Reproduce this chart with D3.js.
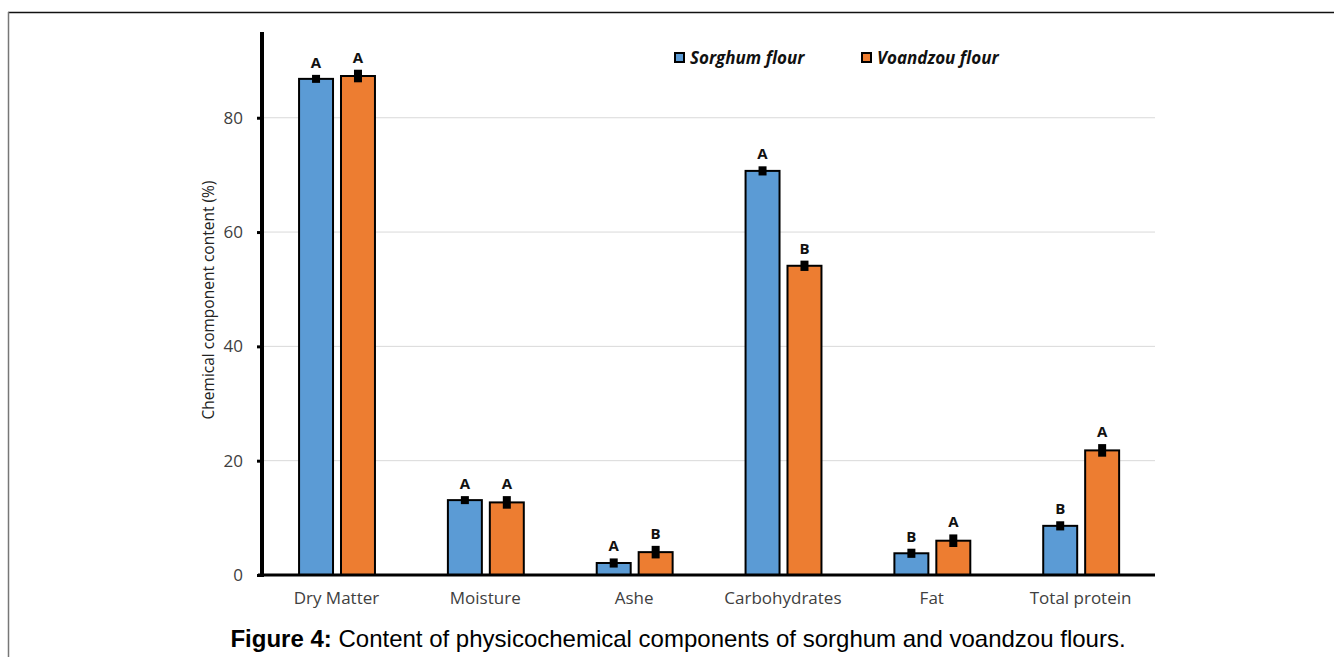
<!DOCTYPE html>
<html><head><meta charset="utf-8">
<script src="https://cdn.jsdelivr.net/npm/d3@7"></script>
<style>body{margin:0;background:#fff}</style>
</head><body>
<svg id="c" width="1334" height="657"></svg>
<script>
const categories = ["Dry Matter","Moisture","Ashe","Carbohydrates","Fat","Total protein"];
const seriesNames = ["Sorghum flour","Voandzou flour"];
const sorghum = [86.8, 13.1, 2.1, 70.7, 3.8, 8.6];
const voandzou = [87.3, 12.7, 4.0, 54.1, 6.0, 21.8];
const sorghumErr = [0.7, 0.7, 0.8, 0.8, 0.8, 0.8];
const voandzouErr = [1.1, 1.1, 1.1, 0.9, 1.1, 1.1];
const sorghumLetters = ["A","A","A","A","B","B"];
const voandzouLetters = ["A","A","B","B","A","A"];
const yTicks = [0,20,40,60,80];
const colors = ["#5B9BD5","#ED7D31"];

const svg = d3.select("#c");
const ml = 262, mr = 1155, mt = 32, mb = 575;
// frame
svg.append("line").attr("x1",8).attr("x2",1334).attr("y1",12.5).attr("y2",12.5).attr("stroke","#111").attr("stroke-width",1.3);
svg.append("line").attr("x1",8.5).attr("x2",8.5).attr("y1",12).attr("y2",657).attr("stroke","#777").attr("stroke-width",1.5);

const y = d3.scaleLinear().domain([0,95]).range([mb,mt]);
const x0 = d3.scaleBand().domain(categories).range([ml,mr]);
const bw = x0.bandwidth();
const x1 = d3.scaleBand().domain(seriesNames).range([bw*0.249, bw*0.759]).paddingInner(0.19);

// gridlines
svg.append("g").selectAll("line").data(yTicks.filter(d=>d>0)).join("line")
  .attr("x1",ml).attr("x2",mr).attr("y1",d=>y(d)).attr("y2",d=>y(d))
  .attr("stroke","#d9d9d9").attr("stroke-width",1);

const series = [
  {name:seriesNames[0], vals:sorghum, err:sorghumErr, let:sorghumLetters, color:colors[0]},
  {name:seriesNames[1], vals:voandzou, err:voandzouErr, let:voandzouLetters, color:colors[1]}
];
series.forEach(s=>{
  const g = svg.append("g");
  const data = categories.map((c,i)=>({c, v:s.vals[i], e:s.err[i], l:s.let[i]}));
  g.selectAll("rect.bar").data(data).join("rect").attr("class","bar")
    .attr("x",d=>x0(d.c)+x1(s.name)).attr("width",x1.bandwidth())
    .attr("y",d=>y(d.v)).attr("height",d=>y(0)-y(d.v))
    .attr("fill",s.color).attr("stroke","#000").attr("stroke-width",2);
  g.selectAll("rect.err").data(data).join("rect").attr("class","err")
    .attr("x",d=>x0(d.c)+x1(s.name)+x1.bandwidth()/2-4).attr("width",8)
    .attr("y",d=>y(d.v+d.e)).attr("height",d=>y(d.v-d.e)-y(d.v+d.e))
    .attr("fill","#000");
  g.selectAll("text").data(data).join("text")
    .attr("x",d=>x0(d.c)+x1(s.name)+x1.bandwidth()/2)
    .attr("y",d=>y(d.v+d.e)-7)
    .attr("text-anchor","middle").attr("font-family","Open Sans, sans-serif")
    .attr("font-weight","bold").attr("font-size",15).attr("fill","#111").text(d=>d.l);
});

// axes
const yAxis = d3.axisLeft(y).tickValues(yTicks).tickSize(5).tickPadding(14);
const ga = svg.append("g").attr("transform",`translate(${ml},0)`).call(yAxis);
ga.select(".domain").remove();
ga.selectAll(".tick line").attr("stroke","#000").attr("stroke-width",3);
ga.selectAll(".tick text").attr("font-family","Open Sans, sans-serif").attr("font-size",17).attr("fill","#404040");
svg.append("line").attr("x1",ml).attr("x2",ml).attr("y1",mt).attr("y2",mb+2).attr("stroke","#000").attr("stroke-width",4);
svg.append("line").attr("x1",ml-4).attr("x2",mr).attr("y1",mb).attr("y2",mb).attr("stroke","#000").attr("stroke-width",3);

const xAxis = d3.axisBottom(x0).tickSize(0).tickPadding(17);
const gx = svg.append("g").attr("transform",`translate(0,${mb})`).call(xAxis);
gx.select(".domain").remove();
gx.selectAll(".tick text").attr("font-family","Open Sans, sans-serif").attr("font-size",17).attr("fill","#404040");

svg.append("text").attr("transform",`translate(214,300) rotate(-90)`)
  .attr("text-anchor","middle").attr("font-family","Open Sans, sans-serif").attr("font-size",15.5).attr("fill","#222")
  .text("Chemical component content (%)");

// legend
const lg = svg.append("g");
const lx = [675, 862];
seriesNames.forEach((n,i)=>{
  lg.append("rect").attr("x",lx[i]).attr("y",53).attr("width",9).attr("height",9)
    .attr("fill",colors[i]).attr("stroke","#000").attr("stroke-width",2);
  lg.append("text").attr("x",lx[i]+15).attr("y",64).attr("font-family","Open Sans, sans-serif")
    .attr("font-weight","bold").attr("font-style","italic").attr("font-size",17).attr("fill","#111").text(n);
});

// caption
const cap = svg.append("text").attr("x",678).attr("y",647).attr("text-anchor","middle")
  .attr("font-family","Liberation Sans, Arial, sans-serif").attr("font-size",24).attr("fill","#000");
cap.append("tspan").attr("font-weight","bold").text("Figure 4:");
cap.append("tspan").text(" Content of physicochemical components of sorghum and voandzou flours.");
</script>
</body></html>
